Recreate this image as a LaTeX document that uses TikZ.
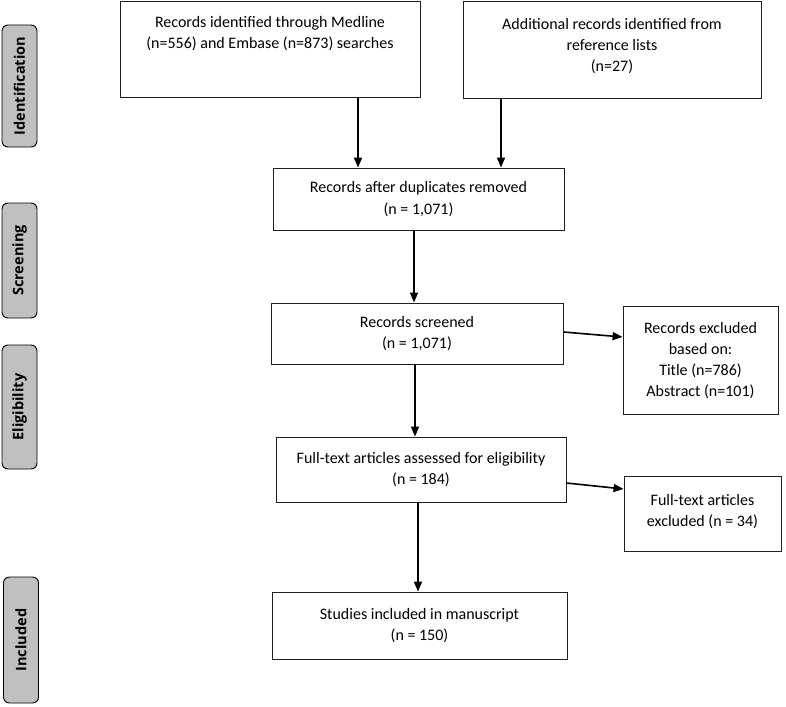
\documentclass[tikz,border=0pt]{standalone}
\usepackage{fontspec}
\setmainfont{Carlito}
\newfontfamily\sidefont{Open Sans}
\usetikzlibrary{arrows.meta}
\definecolor{sidegray}{RGB}{192,192,192}
\definecolor{edge}{RGB}{30,30,30}
\tikzset{
  box/.style={draw=edge, line width=0.9pt, inner sep=0pt, align=center,
    font=\fontsize{16}{21.5}\selectfont},
  txt/.style={inner sep=0pt, align=center, font=\fontsize{16}{21}\selectfont},
  side/.style={draw=black, fill=sidegray, rounded corners=6pt, line width=0.9pt,
    minimum width=35pt, inner sep=0pt},
  sidetxt/.style={rotate=90, font=\sidefont\bfseries\fontsize{14.5}{16}\selectfont},
  arr/.style={line width=1.6pt, -{Triangle[length=10pt,width=8pt]}}
}
\begin{document}
\begin{tikzpicture}[x=1pt,y=-1pt]
\useasboundingbox (0,0) rectangle (786,706);
% side bars
\node[side, minimum height=122pt] (s1) at (19.5,86) {};
\node[sidetxt] (s1t) at (s1.center) {Identification};
\node[side, minimum height=115pt] (s2) at (19.5,260.5) {};
\node[sidetxt] (s2t) at (s2.center) {Screening};
\node[side, minimum height=124pt] (s3) at (19.5,407) {};
\node[sidetxt] (s3t) at (s3.center) {Eligibility};
\node[side, minimum height=126pt] (s4) at (21,640) {};
\node[sidetxt] (s4t) at (s4.center) {Included};
% boxes
\node[box, minimum width=300pt, minimum height=96pt] (a) at (270,49) {};
\node[txt, anchor=north] (at) at (270,16) {Records identified through Medline\\(n=556) and Embase (n=873) searches};
\node[box, minimum width=298pt, minimum height=97pt] (b) at (612,49.5) {};
\node[txt, anchor=north] (bt) at (612,18) {Additional records identified from\\reference lists\\(n=27)};
\node[box, minimum width=291pt, minimum height=62pt] (c) at (418.5,199) {Records after duplicates removed\\(n = 1,071)};
\node[box, minimum width=292pt, minimum height=61pt] (d) at (417,333.5) {Records screened\\(n = 1,071)};
\node[box, minimum width=155pt, minimum height=108pt] (e) at (700.5,360) {};
\node[txt, anchor=north] (et) at (700.5,322) {Records excluded\\based on:\\Title (n=786)\\Abstract (n=101)};
\node[box, minimum width=157pt, minimum height=75pt] (g) at (702.5,513.5) {};
\node[txt, anchor=north] (gt) at (702.5,494) {Full-text articles\\excluded (n = 34)};
\node[box, minimum width=290pt, minimum height=65pt] (f) at (421,469.5) {Full-text articles assessed for eligibility\\(n = 184)};
\node[box, minimum width=295pt, minimum height=67pt] (h) at (419.5,625.5) {Studies included in manuscript\\(n = 150)};
% arrows
\draw[arr] (a.south -| 358,0) -- (c.north -| 358,0);
\draw[arr] (b.south -| 501,0) -- (c.north -| 501,0);
\draw[arr] (c.south -| 414,0) -- (d.north -| 414,0);
\draw[arr] (d.east |- 0,332) -- (e.west |- 0,337);
\draw[arr] (d.south -| 415,0) -- (f.north -| 415,0);
\draw[arr] (f.east |- 0,483) -- (g.west |- 0,489);
\draw[arr] (f.south -| 418,0) -- (h.north -| 418,0);
\end{tikzpicture}
\end{document}
